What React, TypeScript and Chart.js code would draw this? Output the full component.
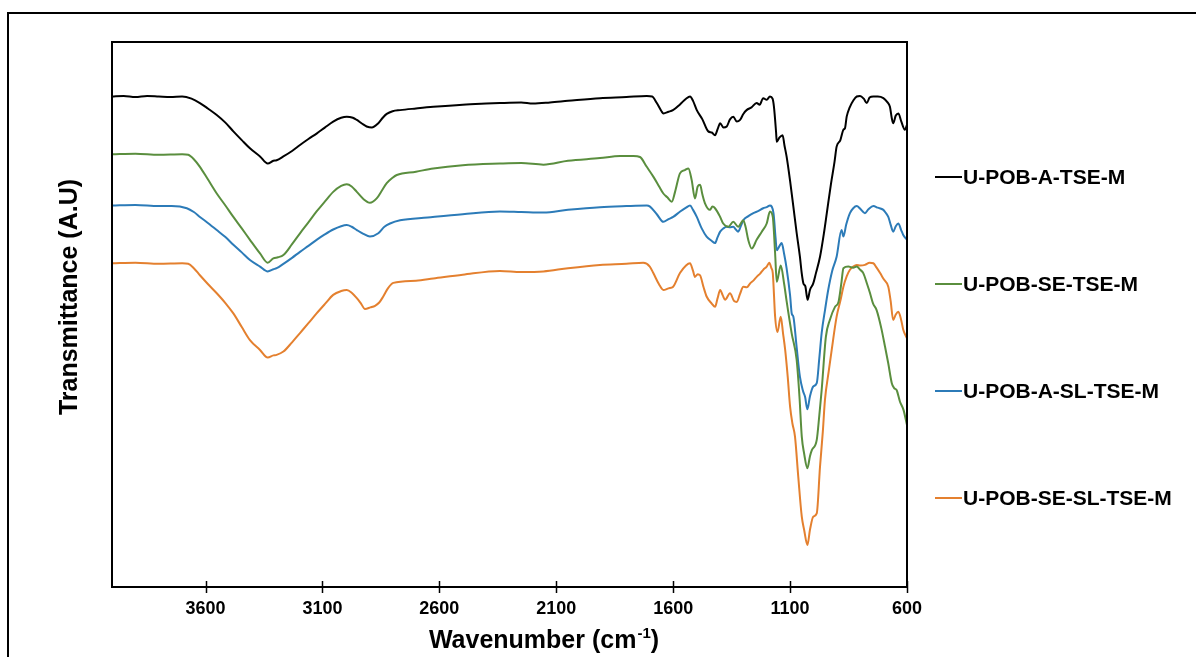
import React, { useEffect, useRef } from "react";
import { Chart, registerables } from "chart.js";

Chart.register(...registerables);

// ---------- data ----------
const SERIES_LABELS = [
  "U-POB-A-TSE-M",
  "U-POB-SE-TSE-M",
  "U-POB-A-SL-TSE-M",
  "U-POB-SE-SL-TSE-M",
];

const X_TICKS = [3600, 3100, 2600, 2100, 1600, 1100, 600];

const X_TITLE_MAIN = "Wavenumber (cm";
const X_TITLE_SUP = "-1";
const X_TITLE_END = ")";
const Y_TITLE = "Transmittance (A.U)";

// [wavenumber cm-1, transmittance (arbitrary units, vertically offset)]
const aTse: [number, number][] = [
  [4000, 90.0], [3950, 90.1], [3900, 89.9], [3850, 90.1], [3800, 90.0], [3750, 89.9], [3700, 90.0],
  [3660, 89.6], [3624, 88.8], [3590, 87.8], [3552, 86.6], [3515, 85.2], [3481, 83.6], [3445, 82.0],
  [3410, 80.5], [3367, 79.0], [3334, 77.7], [3310, 78.2], [3296, 78.3], [3267, 79.0], [3230, 80.0],
  [3196, 81.1], [3160, 82.2], [3125, 83.2], [3090, 84.3], [3054, 85.4], [3020, 86.1], [2996, 86.3],
  [2970, 86.1], [2953, 85.7], [2930, 85.0], [2911, 84.5], [2889, 84.3], [2861, 85.1], [2840, 86.2],
  [2825, 86.8], [2800, 87.3], [2768, 87.5], [2700, 87.8], [2626, 88.1], [2500, 88.5], [2400, 88.7],
  [2341, 88.8], [2250, 88.9], [2200, 88.7], [2127, 88.9], [2050, 89.2], [1913, 89.7], [1800, 89.9],
  [1713, 90.1], [1690, 90.0], [1670, 88.8], [1650, 87.3], [1642, 86.9], [1620, 87.2], [1601, 87.5],
  [1570, 88.6], [1545, 89.6], [1528, 90.0], [1515, 89.2], [1499, 87.5], [1475, 85.8], [1450, 83.6],
  [1435, 83.4], [1421, 82.9], [1410, 84.0], [1399, 85.1], [1385, 84.3], [1371, 84.5], [1357, 85.8],
  [1343, 86.3], [1328, 85.4], [1314, 85.7], [1300, 86.8], [1286, 87.5], [1265, 88.0], [1243, 88.8],
  [1230, 88.5], [1215, 89.7], [1200, 89.4], [1186, 90.0], [1175, 89.6], [1169, 88.1], [1160, 83.5],
  [1157, 81.7], [1145, 82.5], [1132, 82.9], [1124, 81.0], [1115, 79.0], [1100, 74.5], [1086, 69.8],
  [1072, 65.0], [1058, 60.6], [1050, 57.5], [1043, 55.7], [1035, 55.2], [1025, 52.7], [1015, 54.5],
  [1001, 55.7], [990, 57.5], [972, 60.6], [955, 65.0], [943, 68.6], [925, 74.0], [910, 78.0],
  [901, 80.8], [885, 82.0], [872, 83.9], [865, 84.2], [858, 86.3], [845, 88.0], [829, 89.3],
  [815, 90.0], [801, 90.1], [785, 89.6], [772, 88.8], [760, 89.8], [744, 90.0], [725, 90.0],
  [701, 89.7], [685, 89.0], [673, 88.1], [665, 86.0], [659, 85.1], [648, 86.5], [637, 86.9],
  [625, 85.5], [609, 83.9], [600, 84.8],
];

const seTse: [number, number][] = [
  [4000, 79.4], [3900, 79.5], [3800, 79.3], [3700, 79.4], [3674, 79.3], [3650, 78.5], [3624, 77.1],
  [3590, 74.8], [3552, 72.2], [3515, 70.0], [3481, 67.9], [3445, 65.8], [3410, 63.7], [3367, 61.2],
  [3334, 59.5], [3310, 60.3], [3290, 60.5], [3267, 60.9], [3230, 62.9], [3196, 64.9], [3160, 66.9],
  [3125, 68.9], [3090, 70.7], [3054, 72.5], [3020, 73.6], [2996, 73.9], [2975, 73.5], [2953, 72.5],
  [2925, 71.2], [2897, 70.5], [2868, 71.3], [2845, 72.8], [2825, 74.1], [2800, 75.1], [2782, 75.6],
  [2700, 76.2], [2626, 76.8], [2500, 77.4], [2341, 77.7], [2250, 77.8], [2155, 77.5], [2050, 78.2],
  [1913, 78.7], [1827, 79.1], [1770, 79.1], [1742, 78.9], [1713, 77.1], [1685, 75.3], [1660, 73.5],
  [1642, 72.2], [1625, 71.5], [1606, 70.7], [1592, 72.5], [1571, 75.9], [1550, 76.5], [1535, 76.8],
  [1521, 74.7], [1507, 71.3], [1495, 73.5], [1485, 73.8], [1475, 72.0], [1464, 70.4], [1443, 69.2],
  [1432, 69.8], [1421, 69.5], [1399, 67.9], [1386, 66.7], [1364, 66.1], [1343, 67.0], [1322, 66.1],
  [1300, 67.3], [1290, 66.0], [1279, 63.7], [1264, 62.1], [1243, 63.7], [1221, 65.2], [1200, 66.7],
  [1186, 68.9], [1174, 67.9], [1164, 61.2], [1157, 56.0], [1140, 59.0], [1125, 55.5], [1115, 52.5],
  [1093, 46.5], [1072, 41.7], [1060, 35.0], [1050, 27.6], [1040, 24.5], [1026, 21.8], [1015, 24.0],
  [1007, 25.1], [986, 27.0], [975, 31.5], [965, 36.1], [947, 45.9], [930, 49.0], [908, 51.4],
  [893, 52.3], [880, 56.0], [872, 58.5], [851, 58.8], [830, 58.6], [815, 58.8], [800, 58.2],
  [787, 57.6], [770, 55.5], [758, 53.9], [745, 52.0], [730, 50.8], [710, 47.5], [694, 44.1],
  [680, 41.0], [665, 37.4], [655, 36.5], [644, 36.1], [630, 34.0], [615, 32.5], [600, 29.7],
];

const aSlTse: [number, number][] = [
  [4000, 70.0], [3900, 70.1], [3800, 69.9], [3745, 69.9], [3680, 69.5], [3650, 68.8], [3624, 67.9],
  [3590, 66.8], [3552, 65.5], [3515, 64.2], [3481, 62.8], [3445, 61.4], [3410, 60.0], [3367, 58.8],
  [3334, 57.9], [3310, 58.3], [3296, 58.5], [3267, 59.3], [3230, 60.4], [3196, 61.5], [3160, 62.6],
  [3125, 63.7], [3090, 64.7], [3054, 65.6], [3020, 66.2], [2996, 66.4], [2975, 66.1], [2953, 65.5],
  [2925, 64.8], [2897, 64.3], [2861, 64.9], [2835, 66.1], [2811, 66.7], [2768, 67.3], [2650, 67.8],
  [2500, 68.4], [2341, 68.9], [2250, 68.8], [2155, 68.7], [2050, 69.2], [1913, 69.7], [1800, 69.9],
  [1713, 70.0], [1699, 69.8], [1670, 68.4], [1642, 67.0], [1620, 67.5], [1600, 67.9], [1570, 68.9],
  [1545, 69.6], [1528, 70.0], [1515, 69.2], [1499, 67.9], [1478, 65.8], [1457, 64.3], [1435, 63.5],
  [1421, 63.1], [1410, 64.2], [1399, 65.2], [1385, 65.8], [1371, 66.1], [1357, 66.0], [1343, 66.1],
  [1332, 65.6], [1322, 65.2], [1310, 66.3], [1300, 67.3], [1280, 68.0], [1257, 68.6], [1235, 69.0],
  [1215, 69.5], [1200, 69.7], [1186, 70.0], [1171, 68.6], [1162, 64.0], [1157, 61.8], [1145, 62.6],
  [1136, 63.1], [1125, 61.0], [1115, 58.5], [1100, 53.5], [1093, 50.2], [1086, 49.6], [1072, 44.0],
  [1058, 38.6], [1045, 36.0], [1036, 34.9], [1026, 32.6], [1015, 35.0], [1001, 36.8], [986, 37.4],
  [975, 42.0], [965, 46.6], [950, 51.0], [937, 54.5], [920, 58.0], [901, 60.6], [880, 65.5],
  [872, 64.3], [860, 66.5], [844, 68.6], [830, 69.5], [815, 69.9], [800, 69.4], [780, 68.6],
  [765, 69.3], [744, 69.9], [725, 69.6], [701, 69.2], [690, 68.6], [680, 67.9], [670, 66.5],
  [659, 65.2], [648, 66.2], [637, 66.7], [625, 65.5], [616, 64.6], [600, 63.7],
];

const seSlTse: [number, number][] = [
  [4000, 59.4], [3900, 59.5], [3800, 59.3], [3700, 59.4], [3674, 59.3], [3650, 58.5], [3624, 57.2],
  [3590, 55.6], [3552, 53.9], [3515, 52.1], [3481, 50.2], [3445, 47.7], [3410, 45.3], [3367, 43.5],
  [3334, 42.1], [3310, 42.5], [3296, 42.6], [3267, 43.2], [3230, 44.9], [3196, 46.6], [3160, 48.4],
  [3125, 50.2], [3090, 51.9], [3054, 53.6], [3020, 54.3], [2996, 54.5], [2975, 54.0], [2953, 53.0],
  [2935, 52.0], [2918, 51.0], [2895, 51.3], [2875, 51.6], [2857, 52.2], [2840, 53.3], [2820, 54.8],
  [2797, 55.8], [2700, 56.2], [2626, 56.6], [2500, 57.3], [2341, 58.0], [2250, 57.8], [2155, 57.9],
  [2050, 58.5], [1913, 59.1], [1800, 59.3], [1728, 59.5], [1700, 58.8], [1685, 57.6], [1660, 55.5],
  [1642, 54.5], [1620, 54.8], [1600, 55.1], [1571, 57.6], [1545, 59.0], [1528, 59.4], [1515, 58.0],
  [1507, 56.9], [1495, 57.4], [1485, 57.2], [1470, 55.0], [1457, 53.3], [1435, 52.0], [1421, 51.4],
  [1410, 53.0], [1399, 54.5], [1388, 53.5], [1378, 52.7], [1357, 53.9], [1340, 52.5], [1328, 52.3],
  [1314, 53.8], [1300, 55.1], [1285, 55.0], [1271, 55.7], [1255, 56.3], [1243, 56.9], [1228, 57.5],
  [1215, 58.2], [1200, 58.8], [1189, 59.5], [1180, 58.5], [1174, 57.6], [1164, 49.6], [1154, 46.8],
  [1140, 49.6], [1130, 46.5], [1121, 43.5], [1110, 38.5], [1100, 33.1], [1090, 30.0], [1079, 27.6],
  [1065, 20.2], [1050, 12.9], [1040, 10.5], [1026, 7.7], [1015, 10.5], [1001, 12.9], [986, 13.5],
  [972, 22.1], [960, 28.5], [951, 34.3], [935, 39.5], [922, 43.5], [901, 49.6], [885, 52.5],
  [872, 55.1], [858, 57.0], [844, 58.2], [830, 58.8], [815, 59.1], [800, 59.0], [780, 59.1],
  [760, 59.5], [744, 59.4], [730, 58.6], [715, 57.6], [700, 56.5], [680, 55.1], [670, 52.5],
  [659, 49.0], [648, 50.0], [637, 50.5], [625, 49.0], [616, 47.2], [600, 45.6],
];

const SERIES_DATA = [aTse, seTse, aSlTse, seSlTse];

// ---------- styles ----------
const FONT = "'Liberation Sans', Arial, Helvetica, sans-serif";
const LINE_COLORS = ["#000000", "#5A8E3E", "#2C7BB8", "#E4802F"];

const decorPlugin = {
  id: "decor",
  afterDraw(chart: any) {
    const { ctx, chartArea: a } = chart;
    const xs = chart.scales.x;
    ctx.save();
    ctx.strokeStyle = "#000";

    // outer frame (extends beyond the picture on right & bottom)
    ctx.lineWidth = 2;
    ctx.strokeRect(8, 13, 1400, 1000);

    // plot frame
    ctx.lineWidth = 2;
    ctx.strokeRect(a.left, a.top, a.right - a.left, a.bottom - a.top);

    // crossing tick marks
    ctx.lineWidth = 1.5;
    for (const t of xs.ticks) {
      const px = Math.round(xs.getPixelForValue(t.value)) + 0.5;
      ctx.beginPath();
      ctx.moveTo(px, a.bottom - 6);
      ctx.lineTo(px, a.bottom + 6);
      ctx.stroke();
    }

    // x title with superscript
    ctx.fillStyle = "#000";
    ctx.textBaseline = "alphabetic";
    const mainFont = `bold 25px ${FONT}`;
    const supFont = `bold 15px ${FONT}`;
    ctx.font = mainFont;
    const w1 = ctx.measureText(X_TITLE_MAIN).width;
    const w3 = ctx.measureText(X_TITLE_END).width;
    ctx.font = supFont;
    const w2 = ctx.measureText(X_TITLE_SUP).width;
    const total = w1 + w2 + w3 + 1;
    const x0 = 544 - total / 2;
    const base = 648;
    ctx.font = mainFont;
    ctx.textAlign = "left";
    ctx.fillText(X_TITLE_MAIN, x0, base);
    ctx.font = supFont;
    ctx.fillText(X_TITLE_SUP, x0 + w1 + 1, base - 10);
    ctx.font = mainFont;
    ctx.fillText(X_TITLE_END, x0 + w1 + w2 + 1, base);

    // y title
    ctx.save();
    ctx.translate(70, 297);
    ctx.rotate(-Math.PI / 2);
    ctx.font = mainFont;
    ctx.textAlign = "center";
    ctx.textBaseline = "middle";
    ctx.fillText(Y_TITLE, 0, 0);
    ctx.restore();

    // legend
    chart.data.datasets.forEach((ds: any, i: number) => {
      const yc = 177 + i * 107;
      ctx.strokeStyle = ds.borderColor;
      ctx.lineWidth = 2;
      ctx.beginPath();
      ctx.moveTo(935, yc);
      ctx.lineTo(962, yc);
      ctx.stroke();
      ctx.fillStyle = "#000";
      ctx.font = `bold 21px ${FONT}`;
      ctx.textAlign = "left";
      ctx.textBaseline = "middle";
      ctx.fillText(ds.label, 963, yc + 1);
    });

    ctx.restore();
  },
};

export default function App() {
  const canvasRef = useRef<HTMLCanvasElement | null>(null);

  useEffect(() => {
    const canvas = canvasRef.current;
    if (!canvas) return;
    const chart = new Chart(canvas, {
      type: "line",
      data: {
        datasets: SERIES_DATA.map((series, i) => ({
          label: SERIES_LABELS[i],
          data: series.map(([x, y]) => ({ x, y })),
          borderColor: LINE_COLORS[i],
          backgroundColor: LINE_COLORS[i],
          borderWidth: 2,
          pointRadius: 0,
          cubicInterpolationMode: "monotone" as const,
          fill: false,
        })),
      },
      options: {
        responsive: false,
        animation: false,
        events: [],
        layout: { padding: { left: 112, top: 42, right: 289, bottom: 0 } },
        plugins: {
          legend: { display: false },
          tooltip: { enabled: false },
          title: { display: false },
        },
        scales: {
          x: {
            type: "linear",
            min: 600,
            max: 4000,
            reverse: true,
            afterBuildTicks: (scale: any) => {
              scale.ticks = X_TICKS.map((v) => ({ value: v }));
            },
            afterFit: (scale: any) => {
              scale.height = 70;
            },
            grid: { display: false, drawTicks: false },
            border: { display: false },
            ticks: {
              autoSkip: false,
              maxRotation: 0,
              padding: 11,
              color: "#000",
              font: { family: FONT, size: 18, weight: "bold" },
              callback: (v: any) => String(v),
            },
          },
          y: {
            type: "linear",
            display: false,
            min: 0,
            max: 100,
          },
        },
      },
      plugins: [decorPlugin],
    });
    return () => chart.destroy();
  }, []);

  return (
    <div style={{ position: "absolute", left: 0, top: 0, width: 1196, height: 657, background: "#fff", overflow: "hidden" }}>
      <canvas ref={canvasRef} width={1196} height={657} style={{ display: "block" }} />
    </div>
  );
}
